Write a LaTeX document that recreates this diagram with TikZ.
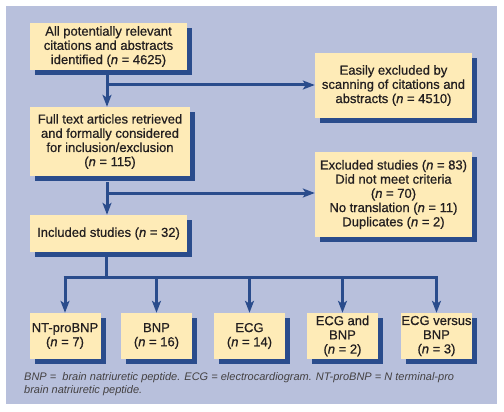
\documentclass[tikz,border=0pt]{standalone}
\usepackage{fontspec}
\setmainfont{Liberation Sans}
\newfontfamily\boxfont[FakeBold=0.7]{Liberation Sans}
\usetikzlibrary{arrows.meta,shadows}
\definecolor{panel}{RGB}{184,192,220}
\definecolor{boxfill}{RGB}{254,235,183}
\definecolor{dkblue}{RGB}{42,76,140}
\definecolor{ink}{RGB}{35,31,32}
\tikzset{
  flowbox/.style={fill=boxfill, draw=none, align=center, inner sep=0pt,
    text=ink, font=\boxfont\fontsize{13}{14.2}\selectfont,
    drop shadow={shadow xshift=5pt, shadow yshift=-5pt, fill=dkblue, opacity=1}},
  link/.style={draw=dkblue, line width=3pt},
  arr/.style={link, -{Stealth[length=12pt,width=9pt,inset=3pt]}}
}
\begin{document}
\begin{tikzpicture}[x=1pt,y=-1pt]
\useasboundingbox (0,0) rectangle (504,412);
\fill[panel] (6,6) rectangle (497,404);
\node[flowbox, minimum width=157pt, minimum height=47pt] (b1) at (108.5,46.5)
  {All potentially relevant\\citations and abstracts\\identified (\textit{n} = 4625)};
\node[flowbox, minimum width=160pt, minimum height=69pt] (b2) at (110,141.5)
  {Full text articles retrieved\\and formally considered\\for inclusion/exclusion\\(\textit{n} = 115)};
\node[flowbox, minimum width=157pt, minimum height=37pt] (b3) at (108.5,233.5)
  {Included studies (\textit{n} = 32)};
\node[flowbox, minimum width=157pt, minimum height=65pt] (e1) at (393.5,85.5)
  {Easily excluded by\\scanning of citations and\\abstracts (\textit{n} = 4510)};
\node[flowbox, minimum width=157pt, minimum height=85pt] (e2) at (393.5,194.5)
  {Excluded studies (\textit{n} = 83)\\Did not meet criteria\\(\textit{n} = 70)\\No translation (\textit{n} = 11)\\Duplicates (\textit{n} = 2)};
\node[flowbox, minimum width=71pt, minimum height=46pt] (n1) at (65,336)
  {NT-proBNP\\(\textit{n} = 7)};
\node[flowbox, minimum width=71pt, minimum height=46pt] (n2) at (156.5,336)
  {BNP\\(\textit{n} = 16)};
\node[flowbox, minimum width=71pt, minimum height=46pt] (n3) at (249.5,336)
  {ECG\\(\textit{n} = 14)};
\node[flowbox, minimum width=71pt, minimum height=46pt] (n4) at (342.5,336)
  {ECG and\\BNP\\(\textit{n} = 2)};
\node[flowbox, minimum width=71pt, minimum height=46pt] (n5) at (436.5,336)
  {ECG versus\\BNP\\(\textit{n} = 3)};
% connectors
\coordinate (s1) at (107,74);
\coordinate (k1) at (107,85);
\coordinate (s2) at (107,182);
\coordinate (k2) at (107,193);
\draw[arr] (s1) -- (s1 |- b2.north);
\draw[arr] (k1) -- (e1.west |- k1);
\draw[arr] (s2) -- (s2 |- b3.north);
\draw[arr] (k2) -- (e2.west |- k2);
\coordinate (s3) at (106,257);
\coordinate (j) at (106,277);
\draw[link] (s3) -- (j);
\draw[link] ([xshift=-1.5pt]n1.north |- j) -- ([xshift=1.5pt]n5.north |- j);
\foreach \n in {n1,n2,n3,n4,n5}{
  \draw[arr] ([yshift=-1.5pt]\n.north |- j) -- (\n.north);
}
\node[anchor=base west, inner sep=0pt, text=ink!85, font=\fontsize{11}{12.5}\selectfont\itshape, align=left] (cap) at (24,393)
  {BNP =\ \ brain natriuretic peptide. ECG = electrocardiogram. NT-proBNP = N terminal-pro\\brain natriuretic peptide.};
\end{tikzpicture}
\end{document}
